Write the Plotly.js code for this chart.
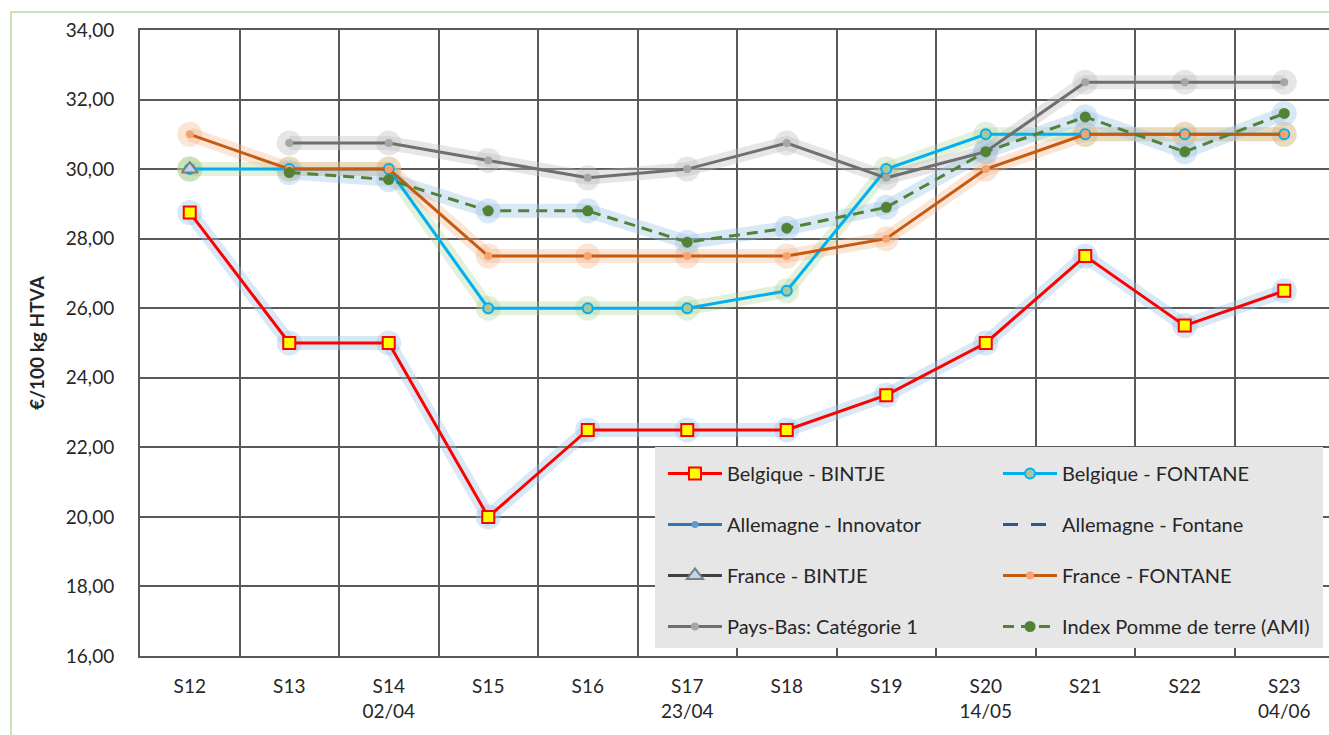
<!DOCTYPE html>
<html>
<head>
<meta charset="utf-8">
<script src="https://cdn.plot.ly/plotly-3.0.1.min.js"></script>
<style>html,body{margin:0;padding:0;background:#fff;overflow:hidden;}#chart{width:1334px;height:735px;}</style>
</head>
<body>
<div id="chart"></div>
<script>
// ---- data ----
const weeks = ['S12','S13','S14','S15','S16','S17','S18','S19','S20','S21','S22','S23'];
const weekDates = ['','','02/04','','','23/04','','','14/05','','','04/06'];

const belgiqueBintje   = [28.75, 25.0, 25.0, 20.0, 22.5, 22.5, 22.5, 23.5, 25.0, 27.5, 25.5, 26.5];
const belgiqueFontane  = [30.0, 30.0, 30.0, 26.0, 26.0, 26.0, 26.5, 30.0, 31.0, 31.0, 31.0, 31.0];
const allemagneInnov   = [null, null, null, null, null, null, null, null, null, null, null, null];
const allemagneFontane = [null, null, null, null, null, null, null, null, null, null, null, null];
const franceBintje     = [30.0, null, null, null, null, null, null, null, null, null, null, null];
const franceFontane    = [31.0, 30.0, 30.0, 27.5, 27.5, 27.5, 27.5, 28.0, 30.0, 31.0, 31.0, 31.0];
const paysBas          = [null, 30.75, 30.75, 30.25, 29.75, 30.0, 30.75, 29.75, 30.5, 32.5, 32.5, 32.5];
const indexAMI         = [null, 29.9, 29.7, 28.8, 28.8, 27.9, 28.3, 28.9, 30.5, 31.5, 30.5, 31.6];

const tickText = weeks.map((w, i) => weekDates[i] ? w + '<br>' + weekDates[i] : w);

const FONT = 'Lato, "Open Sans", sans-serif';

function glow(y, color) {
  return {x: weeks, y: y, type: 'scatter', mode: 'lines+markers', showlegend: false, hoverinfo: 'skip',
    line: {color: color, width: 14}, marker: {color: color, size: 25}, connectgaps: false};
}

const traces = [
  glow(belgiqueBintje, 'rgba(155,194,230,0.38)'),
  glow(belgiqueFontane, 'rgba(169,209,142,0.32)'),
  glow(franceBintje, 'rgba(169,209,142,0.45)'),
  glow(franceFontane, 'rgba(244,177,131,0.33)'),
  glow(paysBas, 'rgba(190,190,190,0.38)'),
  glow(indexAMI, 'rgba(155,194,230,0.38)'),
  {x: weeks, y: belgiqueBintje, name: 'Belgique - BINTJE', legend: 'legend', legendgroup: 'a1',
   type: 'scatter', mode: 'lines+markers', line: {color: '#ff0000', width: 3},
   marker: {symbol: 'square', size: 12, color: '#ffff00', line: {color: '#ff0000', width: 2}}},
  {x: weeks, y: belgiqueFontane, name: 'Belgique - FONTANE', legend: 'legend2', legendgroup: 'b1',
   type: 'scatter', mode: 'lines+markers', line: {color: '#00b0f0', width: 3},
   marker: {symbol: 'circle', size: 10, color: '#a9c79a', line: {color: '#00b0f0', width: 2}}},
  {x: weeks, y: allemagneInnov, name: 'Allemagne - Innovator', legend: 'legend', legendgroup: 'a2',
   type: 'scatter', mode: 'lines+markers', line: {color: '#2e75b6', width: 3},
   marker: {symbol: 'circle', size: 7, color: '#5b9bd5'}},
  {x: weeks, y: allemagneFontane, name: 'Allemagne - Fontane', legend: 'legend2', legendgroup: 'b2',
   type: 'scatter', mode: 'lines', line: {color: '#2f5597', width: 3, dash: '15px,13px'}},
  {x: weeks, y: franceBintje, name: 'France - BINTJE', legend: 'legend', legendgroup: 'a3',
   type: 'scatter', mode: 'lines+markers', line: {color: '#404040', width: 3},
   marker: {symbol: 'triangle-up', size: 14, color: '#bdd7ee', line: {color: '#7f7f7f', width: 2}}},
  {x: weeks, y: franceFontane, name: 'France - FONTANE', legend: 'legend2', legendgroup: 'b3',
   type: 'scatter', mode: 'lines+markers', line: {color: '#c55a11', width: 3},
   marker: {symbol: 'circle', size: 8, color: '#f4a46e'}},
  {x: weeks, y: paysBas, name: 'Pays-Bas: Catégorie 1', legend: 'legend', legendgroup: 'a4',
   type: 'scatter', mode: 'lines+markers', line: {color: '#6f6f6f', width: 3},
   marker: {symbol: 'circle', size: 8, color: '#a6a6a6'}},
  {x: weeks, y: indexAMI, name: 'Index Pomme de terre (AMI)', legend: 'legend2', legendgroup: 'b4',
   type: 'scatter', mode: 'lines+markers', line: {color: '#548235', width: 3, dash: '11px,7px'},
   marker: {symbol: 'circle', size: 11, color: '#548235'}}
];

const legendCommon = {
  orientation: 'v', bgcolor: 'rgba(0,0,0,0)', borderwidth: 0,
  font: {family: FONT, size: 20, color: '#262626'},
  itemwidth: 54, tracegroupgap: 22, traceorder: 'grouped',
  xanchor: 'left', yanchor: 'top', itemclick: false
};

const layout = {
  width: 1334, height: 735,
  margin: {l: 140, r: 0, t: 30, b: 79},
  paper_bgcolor: '#ffffff', plot_bgcolor: '#ffffff',
  separators: ', ',
  font: {family: FONT, color: '#262626'},
  showlegend: true,
  xaxis: {
    type: 'category', range: [-0.5, 11.5], tickson: 'boundaries',
    tickvals: weeks, ticktext: tickText,
    showgrid: true, gridcolor: '#595959', gridwidth: 2,
    showline: true, linecolor: '#595959', linewidth: 2, mirror: true,
    ticks: '', ticklabelstandoff: 12,
    tickfont: {family: FONT, size: 19, color: '#262626'},
    fixedrange: true
  },
  yaxis: {
    range: [16, 34], dtick: 2, tick0: 16, tickformat: '.2f',
    showgrid: true, gridcolor: '#595959', gridwidth: 2,
    showline: true, linecolor: '#595959', linewidth: 2, mirror: true,
    zeroline: false, ticks: '', ticklabelstandoff: 20,
    tickfont: {family: FONT, size: 19, color: '#262626'},
    title: {text: '<b>€/100 kg HTVA</b>', font: {family: FONT, size: 19, color: '#262626'}, standoff: 16},
    fixedrange: true
  },
  legend: Object.assign({}, legendCommon, {x: 0.4380, y: 0.3227}),
  legend2: Object.assign({}, legendCommon, {x: 0.7186, y: 0.3227}),
  shapes: [
    {type: 'rect', xref: 'paper', yref: 'paper', x0: 0.4313, x1: 0.9908, y0: 0.0128, y1: 0.3339,
     fillcolor: '#e6e6e6', line: {width: 0}, layer: 'above'},
    {type: 'rect', xref: 'paper', yref: 'paper', x0: -0.108, x1: 1.05, y0: -0.4, y1: 1.0288,
     fillcolor: 'rgba(0,0,0,0)', line: {color: '#b7dba0', width: 1.5}, layer: 'below'}
  ]
};

Plotly.newPlot('chart', traces, layout, {displayModeBar: false, staticPlot: true});
</script>
</body>
</html>
